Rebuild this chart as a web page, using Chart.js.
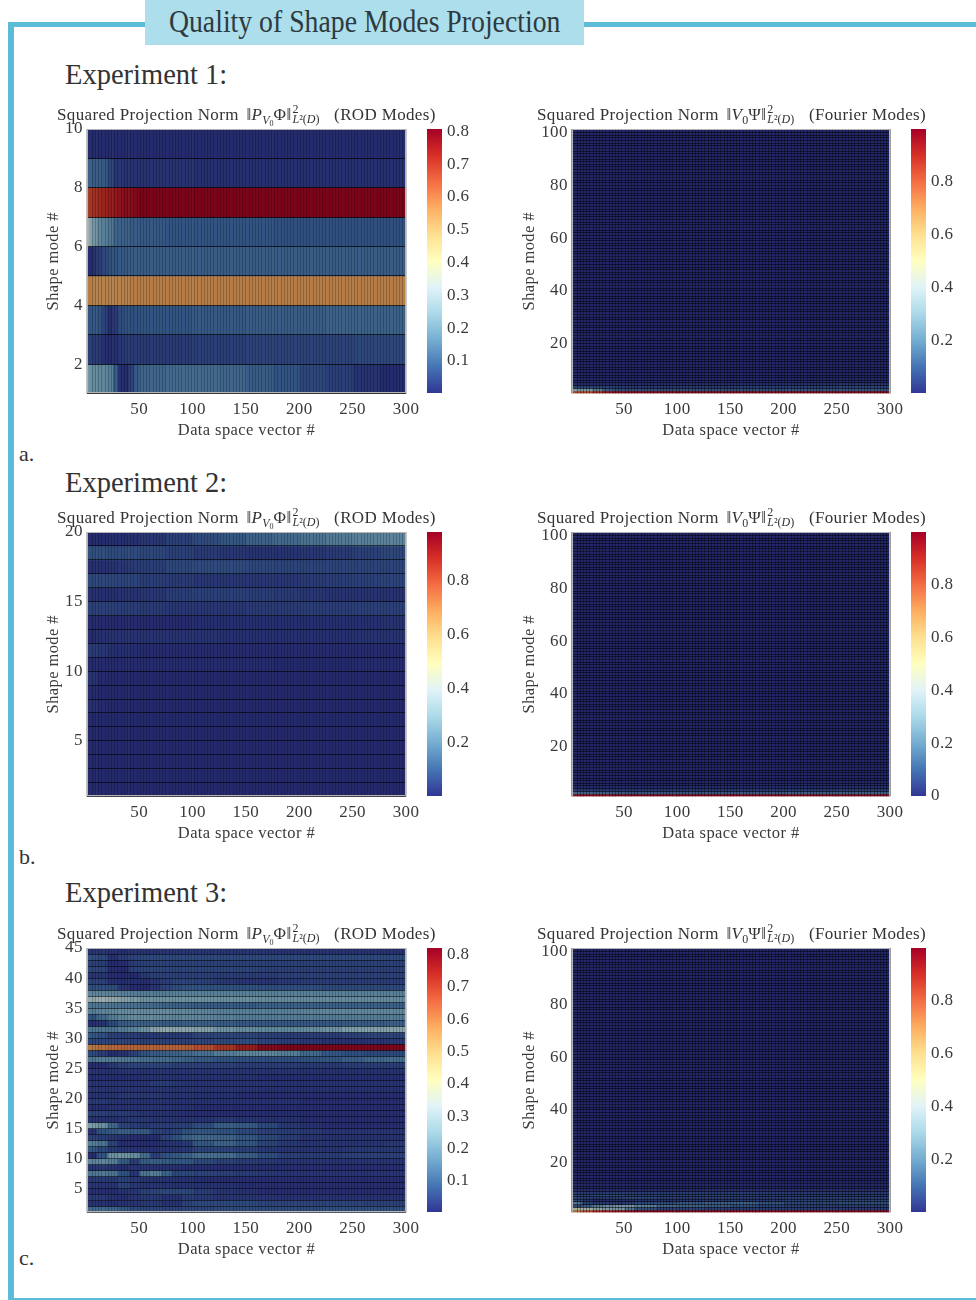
<!DOCTYPE html>
<html><head><meta charset="utf-8">
<script src="https://cdn.jsdelivr.net/npm/chart.js@4/dist/chart.umd.js"></script>
<style>
html,body{margin:0;padding:0;background:#fff}
#page{position:relative;width:976px;height:1300px;overflow:hidden;background:#fff;filter:blur(0.45px);font-family:"Liberation Serif",serif;color:#333}
#page canvas{position:absolute;display:block}
.bar{position:absolute;background:#5cbcd6}
.frame{position:absolute;border:1px solid #b4b4b4;box-sizing:border-box;pointer-events:none}
#head{position:absolute;left:145px;top:0;width:439px;height:45px;background:#addeeb;text-align:center;line-height:43px;color:#2d3a40;white-space:nowrap}
#head span{display:inline-block;font-size:31px;transform:scaleX(.895);transform-origin:center}
.exp{position:absolute;left:65px;font-size:30px;line-height:32px;white-space:nowrap;color:#333;transform:scaleX(.95);transform-origin:left center}
.tag{position:absolute;left:19px;font-size:22px;line-height:24px;color:#333}
.ttl{position:absolute;font-size:17px;line-height:20px;white-space:nowrap;letter-spacing:.35px;color:#333}
.ttl i{font-style:italic}
.ttl .n{margin-left:3px}
.ttl .s{font-size:12px;position:relative;top:4px;letter-spacing:0}
.ttl .ss{font-size:8px;position:relative;top:2px}
.ttl .st{display:inline-block;vertical-align:baseline;position:relative;width:38px;height:10px}
.ttl .st b{position:absolute;left:1px;font-weight:normal;font-size:12px;line-height:12px;letter-spacing:0}
</style></head><body>
<div id="page">
  <div class="bar" style="left:8px;top:22px;width:6px;height:1278px"></div>
  <div class="bar" style="left:8px;top:22px;width:968px;height:5px"></div>
  <div class="bar" style="left:8px;top:1298px;width:968px;height:2px"></div>
  <div id="head"><span>Quality of Shape Modes Projection</span></div>
  <div class="exp" style="top:58px">Experiment 1:</div>
  <div class="exp" style="top:466px">Experiment 2:</div>
  <div class="exp" style="top:876px">Experiment 3:</div>
  <div class="tag" style="top:442px">a.</div>
  <div class="tag" style="top:845px">b.</div>
  <div class="tag" style="top:1246px">c.</div>
</div>
<script>
// ---- shared axis labels ----
const xTicks = [50,100,150,200,250,300];
const xTitle = 'Data space vector #';
const yTitle = 'Shape mode #';
const rodTicks1 = [2,4,6,8,10];
const rodTicks2 = [5,10,15,20];
const rodTicks3 = [5,10,15,20,25,30,35,40,45];
const fourierTicks = [20,40,60,80,100];

// ---- colour bar ticks / ranges ----
const cbTicksRod1 = [0.1,0.2,0.3,0.4,0.5,0.6,0.7,0.8];
const cbTicksRod2 = [0.2,0.4,0.6,0.8];
const cbTicksRod3 = [0.1,0.2,0.3,0.4,0.5,0.6,0.7,0.8];
const cbTicksF13  = [0.2,0.4,0.6,0.8];
const cbTicksF2   = [0,0.2,0.4,0.6,0.8];
const rangeRod1 = [0.002,0.807];
const rangeRod2 = [0.001,0.98];
const rangeRod3 = [0.004,0.82];
const rangeF    = [0,1];

// ---- Experiment 1, ROD modes: column edges, rows bottom to top, values x 100 ----
const rod1Edges = [1,3,6,10,15,20,25,30,35,40,45,50,75,100,125,150,175,200,225,250,275,300];
const rod1Rows = [
[28,26,25,24,24,22,14,3,2,8,13,16,17,17,16,14,12,9,7,4,2],
[7,7,6,6,3,2,3,5,6,6,6,6,6,7,7,8,8,8,8,9,9],
[12,12,13,12,8,3,6,10,11,11,11,12,12,13,13,14,14,14,15,15,15],
[60,60,59,59,59,59,59,59,59,60,60,60,60,60,60,60,60,60,60,60,60],
[2,2,4,7,9,11,12,13,13,14,14,14,14,14,14,14,14,14,14,14,14],
[38,32,28,24,22,20,16,15,15,14,14,13,12,12,12,12,11,11,11,11,11],
[70,71,72,73,74,75,76,77,78,78,79,80,80,80,80,80,80,80,80,80,80],
[15,15,14,14,13,9,5,5,4,4,4,4,4,3,3,3,3,3,3,3,3],
[2,2,2,2,2,2,2,2,2,2,2,2,2,2,2,2,2,2,2,2,2]];

// ---- Experiment 2, ROD modes ----
const rod2Edges = [1,10,20,30,40,50,75,100,125,150,175,200,225,250,275,300];
const rod2Rows = [
[1,1,1,1,1,1,1,1,1,1,1,1,1,1,1],
[1,1,1,1,1,1,1,1,1,1,1,1,1,1,1],
[1,1,1,1,1,1,1,1,1,1,1,1,1,1,1],
[1,1,1,1,1,1,1,1,1,1,1,1,1,1,1],
[1,1,1,1,1,1,1,1,1,1,1,1,1,1,1],
[1,1,1,1,1,1,1,1,1,1,1,1,1,1,1],
[4,2,1,1,1,1,1,1,1,1,1,1,1,1,1],
[2,1,1,1,1,1,1,1,1,1,1,1,1,1,1],
[5,2,1,1,1,1,1,1,1,1,1,1,1,1,1],
[2,2,2,2,2,2,2,2,2,2,1,1,1,2,2],
[7,6,4,3,3,2,2,2,2,2,2,2,2,2,2],
[2,4,5,5,5,5,5,5,4,4,4,4,4,5,5],
[2,2,2,2,2,2,2,3,3,3,3,3,4,4,5],
[9,9,9,8,8,7,6,6,6,7,7,8,8,9,9],
[4,4,4,5,5,6,8,9,9,8,7,6,5,5,5],
[11,11,11,10,10,8,7,6,6,6,6,7,8,9,10],
[4,4,5,6,7,8,11,12,12,11,10,10,10,10,10],
[13,13,12,12,12,11,9,7,6,5,5,6,7,9,11],
[2,2,3,3,4,6,9,12,15,18,20,23,25,27,28]];

// ---- Experiment 3, ROD modes ----
const rod3Edges = [1,10,20,30,40,50,60,70,80,90,100,120,140,160,180,200,220,240,260,280,300];
const rod3Rows = [
[17,17,16,13,10,9,9,8,8,9,9,10,10,10,10,10,11,11,11,11],
[4,4,3,4,5,6,6,4,4,8,10,10,10,9,9,9,9,9,8,8],
[6,6,4,3,5,6,6,4,4,7,6,5,5,5,4,4,4,4,4,4],
[3,3,3,4,5,8,9,10,10,10,7,5,4,3,3,3,3,3,3,3],
[5,5,5,9,6,5,5,5,4,4,4,4,3,3,3,3,3,3,3,3],
[6,6,6,8,6,5,4,4,4,4,3,3,3,3,3,3,3,3,3,3],
[20,21,20,12,5,20,22,16,10,10,9,8,7,6,5,5,5,5,5,5],
[5,6,5,3,5,5,4,4,4,3,3,3,3,3,3,3,3,3,3,3],
[24,24,22,14,7,14,15,14,13,13,10,8,7,6,5,5,5,5,5,5],
[3,12,27,28,26,18,8,12,14,16,19,18,15,11,8,7,7,8,8,8],
[13,10,7,5,5,5,4,5,5,6,9,9,8,6,5,5,5,6,6,6],
[22,20,9,3,3,3,3,4,5,6,13,16,13,9,6,5,5,5,5,6],
[8,7,6,4,3,3,3,9,12,16,17,16,13,10,7,5,4,4,4,4],
[4,12,14,15,14,14,8,7,9,12,13,12,10,8,7,6,5,5,5,5],
[30,27,17,9,7,6,7,7,8,8,11,15,14,10,6,4,3,3,3,3],
[4,4,4,5,6,6,5,5,5,5,5,6,5,4,4,3,3,3,3,3],
[8,8,7,7,6,5,4,4,4,3,3,3,3,3,3,3,3,3,3,3],
[3,3,4,4,4,5,5,5,4,4,3,3,3,3,3,3,3,3,3,3],
[6,6,5,4,4,4,4,4,4,4,4,4,4,4,4,3,3,3,3,3],
[4,4,5,6,6,6,6,5,5,5,4,4,3,3,3,3,3,3,3,3],
[5,5,5,5,5,5,5,5,5,5,5,5,5,4,4,4,4,4,4,4],
[5,5,5,5,5,5,7,7,6,5,5,5,5,5,4,4,4,4,4,4],
[3,3,3,3,3,4,4,4,4,4,4,4,4,3,3,3,3,3,3,3],
[5,4,4,5,5,5,5,5,5,5,5,5,5,5,5,4,4,4,4,4],
[2,3,6,8,9,9,9,9,8,8,8,8,7,7,7,6,6,7,7,7],
[20,22,22,21,20,19,18,18,17,16,14,12,11,11,11,12,13,15,17,18],
[10,7,3,4,8,12,14,15,16,17,19,22,24,24,22,17,13,11,10,10],
[62,63,64,65,65,65,65,65,65,66,68,72,76,80,81,81,81,81,81,81],
[9,9,9,9,8,8,8,8,8,8,9,10,11,9,7,6,4,4,5,6],
[13,11,8,7,7,6,6,6,6,6,9,9,9,8,7,7,7,8,9,9],
[20,20,20,22,24,28,33,35,34,34,32,28,26,25,25,26,28,31,32,33],
[3,4,10,14,15,15,15,14,14,15,15,14,13,13,13,13,13,14,14,15],
[12,17,22,24,26,26,26,25,24,25,24,23,22,22,22,22,22,22,22,22],
[22,24,25,26,26,26,26,26,25,25,24,23,23,23,23,24,25,25,25,25],
[20,20,20,19,19,18,17,16,15,15,14,14,14,15,15,15,15,15,15,15],
[36,38,36,33,30,28,28,28,28,28,28,27,27,26,26,26,26,26,26,26],
[24,24,24,23,22,22,22,22,23,23,23,23,23,23,23,23,23,23,23,23],
[11,11,11,5,2,2,5,9,11,12,12,12,12,11,11,11,10,10,10,10],
[8,8,4,3,3,3,5,7,9,9,8,6,5,5,6,7,7,7,7,7],
[5,5,3,2,2,6,8,8,8,8,8,7,7,7,8,8,8,8,8,8],
[9,9,3,2,8,9,9,9,9,9,9,9,9,8,8,8,8,8,8,8],
[8,7,2,3,7,8,8,8,8,8,8,8,8,8,8,8,8,8,8,8],
[11,10,4,7,9,10,10,10,10,10,10,10,10,10,10,10,10,10,10,10],
[5,5,4,3,4,4,4,5,5,5,5,5,5,5,4,4,4,4,4,4]];

// ---- Fourier modes: lowest rows carry the signal, all higher rows share one level ----
const fEdges = [1,10,20,30,40,50,75,100,150,200,250,300];
const f1Rows = [
[85,85,90,95,97,98,98,98,98,98,98],
[38,36,28,18,14,14,14,14,14,15,16],
[10,10,10,10,8,7,7,7,8,9,10],
[3,3,3,3,3,3,3,4,4,5,6],
[2,2,2,2,2,2,2,2,2,2,2]];
const f2Rows = [
[97,97,97,97,98,98,98,98,98,98,98],
[20,20,19,18,17,16,16,16,17,18,19],
[7,7,7,7,7,7,7,7,8,8,9],
[3,3,3,3,3,3,3,3,3,4,4],
[1,1,1,1,1,1,1,1,2,2,2]];
const f3Edges = [1,10,20,30,40,50,60,80,100,125,150,175,200,250,300];
const f3Rows = [
[78,85,90,93,95,97,98,98,98,98,98,98,98,98],
[52,48,42,38,36,25,14,10,10,9,8,8,8,7],
[12,18,28,33,36,38,30,22,20,18,14,10,9,9],
[26,10,8,8,7,10,13,14,18,20,21,17,12,14],
[12,7,4,4,5,5,6,6,7,8,9,9,11,12],
[10,8,7,8,9,12,11,9,8,9,8,8,9,9],
[11,11,13,14,14,11,10,10,10,11,10,9,8,8],
[8,7,7,8,9,9,9,8,8,8,8,8,7,7],
[4,4,4,4,4,4,4,4,4,5,5,5,5,5],
[3,3,3,3,3,3,3,3,3,3,3,3,3,3],
[2,2,2,2,2,2,2,2,2,2,2,2,2,2]];
const fRest = 0.5;

// ---- colour map ----
const cmapStops = ['#313695','#4575b4','#74add1','#abd9e9','#e0f3f8','#ffffbf','#fee090','#fdae61','#f46d43','#d73027','#a50026'];
function rgbOf(h){return [1,3,5].map(i=>parseInt(h.substr(i,2),16));}
function cmap(f,shade){
  f=Math.pow(Math.max(0,Math.min(1,f)),1.2)*(cmapStops.length-1);
  const i=Math.min(Math.floor(f),cmapStops.length-2),t=f-i;
  const a=rgbOf(cmapStops[i]),b=rgbOf(cmapStops[i+1]);
  return 'rgb('+a.map((v,k)=>Math.round((v+(b[k]-v)*t)*shade)).join(',')+')';
}

Chart.defaults.font.family='"Liberation Serif", serif';
Chart.defaults.color='#3a3a3a';
Chart.defaults.animation=false;
const spacing={id:'spacing',beforeDraw(c){c.ctx.letterSpacing='0.4px';}};
const page=document.getElementById('page');
function addCanvas(l,t,w,h){
  const c=document.createElement('canvas');
  c.width=Math.round(w);c.height=Math.round(h);
  c.style.left=l+'px';c.style.top=t+'px';c.style.width=Math.round(w)+'px';c.style.height=Math.round(h)+'px';
  page.appendChild(c);return c;
}
function heat(o){
  const yW=o.yW,top=16,xH=47.5,right=22;
  const cl=o.l-yW,ct=o.t-top,cw=yW+o.w+right,ch=top+o.h+xH;
  const cv=addCanvas(cl,ct,cw,ch);
  const [mn,mx]=o.range;
  const col=v=>cmap((v/100-mn)/(mx-mn),o.shade);
  const datasets=[];
  for(let j=0;j<o.edges.length-1;j++){
    datasets.push({
      data:o.rows.map((r,i)=>({x:[o.edges[j],o.edges[j+1]],y:i+1.5})),
      backgroundColor:o.rows.map(r=>col(r[j]))
    });
  }
  if(o.rest!==undefined){
    const d=[];
    for(let r=o.rows.length+1;r<=o.ymax;r++)d.push({x:[1,300],y:r+.5});
    datasets.push({data:d,backgroundColor:col(o.rest)});
  }
  const isF=o.rest!==undefined;
  new Chart(cv,{type:'bar',data:{datasets},plugins:[spacing],options:{
    responsive:false,indexAxis:'y',animation:false,
    layout:{padding:{top:top,right:right,left:0,bottom:0}},
    datasets:{bar:{grouped:false,barPercentage:1,categoryPercentage:1,borderWidth:0}},
    plugins:{legend:{display:false},tooltip:{enabled:false},title:{display:false}},
    scales:{
      x:{type:'linear',position:'bottom',min:1,max:300,offset:false,
         afterBuildTicks:s=>{s.ticks=xTicks.map(v=>({value:v}));},
         ticks:{font:{size:17},padding:6,maxRotation:0,autoSkip:false},
         grid:{display:false,drawTicks:false},border:{display:false},
         title:{display:true,text:xTitle,font:{size:16.5,lineHeight:1.2},padding:0},
         afterFit:s=>{s.height=xH;}},
      xg:{type:'linear',position:'top',min:1,max:300,offset:false,
         ticks:{display:false,stepSize:3,autoSkip:false},
         grid:{display:true,z:1,offset:false,drawTicks:false,color:'rgba(0,0,0,'+o.vAlpha+')',lineWidth:1},
         border:{display:false},
         afterFit:s=>{s.height=0;}},
      y:{type:'linear',position:'left',min:1,max:o.ymax,offset:false,
         ticks:{font:{size:17},padding:4,stepSize:1,autoSkip:false,
                callback:v=>o.yTicks.includes(v)?String(v):''},
         grid:{display:true,z:1,offset:false,drawTicks:false,lineWidth:1,
               color:c=>(isF&&c.tick&&c.tick.value<=2)?'rgba(0,0,0,0)':'rgba(0,0,0,'+o.hAlpha+')'},
         border:{display:false},
         title:{display:true,text:yTitle,font:{size:16.5,lineHeight:1.2},padding:0},
         afterFit:s=>{s.width=yW;}}
    }
  }});
  const f=document.createElement('div');f.className='frame';
  f.style.cssText='left:'+o.l+'px;top:'+o.t+'px;width:'+o.w+'px;height:'+o.h+'px;'+(isF?'border-bottom:none':'');
  page.appendChild(f);
}
function colorbar(o){
  const lead=6,top=16,w=15,rw=36;
  const cv=addCanvas(o.l-lead,o.t-top,lead+w+rw,top+o.h+top);
  new Chart(cv,{type:'bar',data:{labels:['c'],datasets:[{
    data:[o.range],
    barPercentage:1,categoryPercentage:1,borderWidth:0,
    backgroundColor:ctx=>{
      const a=ctx.chart.chartArea; if(!a)return '#888';
      const g=ctx.chart.ctx.createLinearGradient(0,a.bottom,0,a.top);
      cmapStops.forEach((c,i)=>g.addColorStop(i/(cmapStops.length-1),c));
      return g;
    }}]},plugins:[spacing],options:{
    responsive:false,animation:false,
    layout:{padding:{left:lead,top:top,right:0,bottom:top}},
    plugins:{legend:{display:false},tooltip:{enabled:false}},
    scales:{
      x:{display:false},
      y:{position:'right',min:o.range[0],max:o.range[1],
         afterBuildTicks:s=>{s.ticks=o.ticks.map(v=>({value:v}));},
         ticks:{font:{size:17},padding:5,callback:v=>String(v)},
         grid:{display:false,drawTicks:false},border:{display:false},
         afterFit:s=>{s.width=rw;}}
    }
  }});
}
function title(l,t,html){
  const d=document.createElement('div');d.className='ttl';
  d.style.left=l+'px';d.style.top=t+'px';d.innerHTML=html;page.appendChild(d);
}
const normRod='<span class="n">‖</span><i>P</i><span class="s"><i>V</i><span class="ss">0</span></span>Φ‖<span class="st"><b style="top:-7px">2</b><b style="top:3px"><i>L</i>²(<i>D</i>)</b></span>';
const normF='<span class="n">‖</span><i>V</i><span class="s">0</span>Ψ‖<span class="st"><b style="top:-7px">2</b><b style="top:3px"><i>L</i>²(<i>D</i>)</b></span>';
const panels=[
 {t:128.7,h:264,rows:rod1Rows,edges:rod1Edges,range:rangeRod1,yTicks:rodTicks1,ymax:10,cb:cbTicksRod1,hA:.7,ty:105,f:f1Rows,fe:fEdges,fb:cbTicksF13},
 {t:532,h:264,rows:rod2Rows,edges:rod2Edges,range:rangeRod2,yTicks:rodTicks2,ymax:20,cb:cbTicksRod2,hA:.6,ty:508,f:f2Rows,fe:fEdges,fb:cbTicksF2},
 {t:948,h:264,rows:rod3Rows,edges:rod3Edges,range:rangeRod3,yTicks:rodTicks3,ymax:45,cb:cbTicksRod3,hA:.5,ty:924,f:f3Rows,fe:f3Edges,fb:cbTicksF13}
];
panels.forEach(p=>{
  heat({l:87.3,t:p.t,w:318.7,h:p.h,yW:42.9,rows:p.rows,edges:p.edges,range:p.range,yTicks:p.yTicks,ymax:p.ymax,shade:.72,vAlpha:.22,hAlpha:p.hA});
  colorbar({l:426.7,t:p.t,h:p.h-.5,range:p.range,ticks:p.cb});
  heat({l:572.3,t:p.t,w:317.7,h:p.h+.5,yW:51.9,rows:p.f,edges:p.fe,range:rangeF,yTicks:fourierTicks,ymax:101.4,rest:fRest,shade:.7,vAlpha:.38,hAlpha:.52});
  colorbar({l:910.7,t:p.t,h:p.h-.5,range:rangeF,ticks:p.fb});
  title(57,p.ty,'Squared Projection Norm '+normRod+' (ROD Modes)');
  title(537,p.ty,'Squared Projection Norm '+normF+' (Fourier Modes)');
});
</script>
</body></html>
